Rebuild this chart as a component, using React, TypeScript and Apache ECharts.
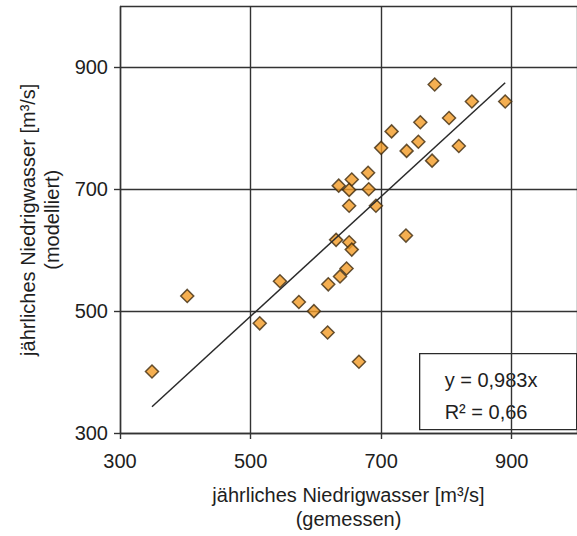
import React, { useEffect, useRef } from "react";
import * as echarts from "echarts";

// measured (x) vs. modelled (y) annual low water [m³/s]
const measured = [782, 839, 890, 760, 804, 716, 757, 739, 819, 700, 778, 738, 680, 655, 635, 651, 681, 651, 692, 631, 651, 655, 647, 637, 619, 545, 574, 597, 514, 618, 666, 403, 349];
const modelled = [872, 844, 844, 810, 817, 795, 778, 763, 771, 768, 747, 624, 727, 716, 706, 699, 700, 673, 673, 617, 613, 601, 570, 557, 544, 549, 515, 500, 480, 465, 417, 525, 401];

const slope = 0.983;
const slopeLabel = "0,983";
const rSquaredLabel = "0,66";

const axisMin = 300;
const axisMax = 1000;
const axisStep = 200;

const xTitle = "jährliches Niedrigwasser [m³/s]\n(gemessen)";
const yTitle = "jährliches Niedrigwasser [m³/s]\n(modelliert)";

const FONT = "'Liberation Sans', Arial, Helvetica, sans-serif";
const TEXT = "#1e1e1e";
const GRID = "#333333";

export default function App() {
  const ref = useRef<HTMLDivElement>(null);

  useEffect(() => {
    document.body.style.margin = "0";
    const chart = echarts.init(ref.current!, null, { renderer: "svg" });

    const points = measured.map((x, i) => [x, modelled[i]]);
    const xLo = Math.min(...measured);
    const xHi = Math.max(...measured);
    const trend = [
      [xLo, xLo * slope],
      [xHi, xHi * slope],
    ];

    const axisCommon = {
      type: "value" as const,
      min: axisMin,
      max: axisMax,
      interval: axisStep,
      axisLine: { show: true, lineStyle: { color: GRID, width: 1.4 } },
      axisTick: { show: true, inside: false, length: 6, lineStyle: { color: GRID, width: 1.4 } },
      splitLine: { show: true, lineStyle: { color: GRID, width: 1.4 } },
      nameLocation: "middle" as const,
      nameTextStyle: { fontFamily: FONT, fontSize: 20, color: TEXT, lineHeight: 24 },
    };

    chart.setOption({
      animation: false,
      backgroundColor: "#ffffff",
      grid: { left: 120, right: -7, top: 6.5, bottom: 98, containLabel: false },
      xAxis: {
        ...axisCommon,
        name: xTitle,
        nameGap: 50,
        axisLabel: {
          showMaxLabel: false,
          margin: 18,
          fontFamily: FONT,
          fontSize: 20,
          color: TEXT,
        },
      },
      yAxis: {
        ...axisCommon,
        name: yTitle,
        nameGap: 43,
        axisLabel: {
          showMaxLabel: false,
          margin: 12,
          fontFamily: FONT,
          fontSize: 20,
          color: TEXT,
        },
      },
      series: [
        {
          type: "scatter",
          data: points,
          symbol: "diamond",
          symbolSize: 13,
          itemStyle: { color: "#F29B26", borderColor: "#3f2a0e", borderWidth: 1.5 },
          z: 3,
        },
        {
          type: "line",
          data: trend,
          symbol: "none",
          lineStyle: { color: "#2a2a2a", width: 1.5 },
          z: 4,
        },
      ],
      graphic: [
        {
          type: "group",
          left: 419,
          top: 353,
          children: [
            {
              type: "rect",
              shape: { x: 0, y: 0, width: 157, height: 76 },
              style: { fill: "#ffffff", stroke: "#2a2a2a", lineWidth: 1.3 },
            },
            {
              type: "text",
              x: 25,
              y: 26,
              style: {
                text: `y = ${slopeLabel}x`,
                fontFamily: FONT,
                fontSize: 20,
                fill: TEXT,
                verticalAlign: "middle",
              },
            },
            {
              type: "text",
              x: 25,
              y: 58,
              style: {
                text: `R² = ${rSquaredLabel}`,
                fontFamily: FONT,
                fontSize: 20,
                fill: TEXT,
                verticalAlign: "middle",
              },
            },
          ],
        },
      ],
    });

    return () => chart.dispose();
  }, []);

  return <div ref={ref} style={{ width: 577, height: 536 }} />;
}
